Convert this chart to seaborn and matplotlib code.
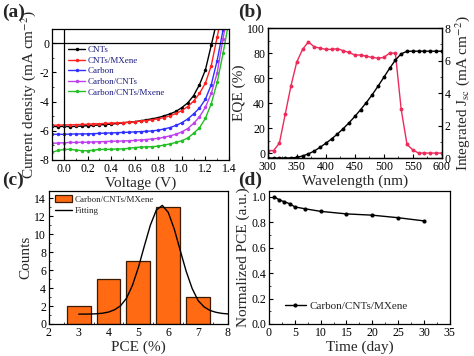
import numpy as np
import pandas as pd
import matplotlib
matplotlib.use("Agg")
import matplotlib.pyplot as plt
import seaborn as sns
from matplotlib.ticker import MultipleLocator
from matplotlib.patches import Patch
from matplotlib.lines import Line2D

# ---------------- data ----------------
# (a) J-V curves
voltage = [-0.10, -0.05, 0.00, 0.05, 0.10, 0.15, 0.20, 0.25, 0.30, 0.35, 0.40,
           0.45, 0.50, 0.55, 0.60, 0.65, 0.70, 0.75, 0.80, 0.85, 0.90, 0.95,
           1.00, 1.05, 1.10, 1.15, 1.20, 1.25, 1.30, 1.35, 1.40]
j_cnts = [-5.70, -5.72, -5.70, -5.72, -5.70, -5.68, -5.66, -5.64, -5.60, -5.58, -5.55,
          -5.50, -5.46, -5.42, -5.38, -5.32, -5.25, -5.18, -5.10, -4.98, -4.85, -4.68,
          -4.42, -4.10, -3.60, -2.85, -1.85, -0.15, 1.60, 3.40, 5.20]
j_cnts_mxene = [-5.62, -5.62, -5.60, -5.60, -5.58, -5.57, -5.56, -5.53, -5.52, -5.50, -5.48,
                -5.46, -5.44, -5.42, -5.38, -5.34, -5.30, -5.25, -5.18, -5.10, -4.98, -4.82,
                -4.62, -4.35, -3.98, -3.45, -2.75, -1.55, 0.40, 2.40, 4.40]
j_carbon = [-6.25, -6.24, -6.25, -6.23, -6.22, -6.22, -6.21, -6.20, -6.18, -6.16, -6.15,
            -6.13, -6.12, -6.10, -6.08, -6.06, -6.04, -6.01, -5.96, -5.88, -5.78, -5.64,
            -5.45, -5.20, -4.85, -4.45, -3.85, -2.85, -1.20, 0.90, 3.00]
j_carbon_cnts = [-6.86, -6.84, -6.82, -6.80, -6.80, -6.79, -6.79, -6.76, -6.75, -6.74, -6.72,
                 -6.71, -6.70, -6.68, -6.66, -6.63, -6.60, -6.56, -6.52, -6.44, -6.35, -6.24,
                 -6.08, -5.85, -5.50, -5.05, -4.40, -3.45, -2.05, 0.30, 2.50]
j_carbon_cnts_mxene = [-7.47, -7.35, -7.28, -7.27, -7.32, -7.36, -7.37, -7.33, -7.28, -7.27, -7.27,
                       -7.25, -7.24, -7.20, -7.15, -7.12, -7.10, -7.09, -7.05, -6.98, -6.90, -6.80,
                       -6.68, -6.50, -6.18, -5.80, -5.15, -4.15, -2.70, -0.70, 1.50]
jv_labels = ["CNTs", "CNTs/MXene", "Carbon", "Carbon/CNTs", "Carbon/CNTs/Mxene"]

# (b) EQE and integrated Jsc
wavelength = [300, 310, 320, 330, 340, 350, 360, 370, 380, 390, 400, 410, 420, 430, 440,
              450, 460, 470, 480, 490, 500, 510, 520, 530, 540, 550, 560, 570, 580, 590, 600]
eqe = [2, 2, 8, 31, 54, 73, 83, 89, 85, 84, 83, 83, 83.5, 82, 80.5,
       78.5, 78.5, 77.5, 76.5, 76, 76.5, 80, 80, 35, 7, 2.5, 0, 0, 0, 0, 0]
jsc_int = [0, 0, 0, 0, 0.01, 0.04, 0.13, 0.26, 0.43, 0.66, 0.91, 1.18, 1.48, 1.81, 2.17,
           2.56, 2.98, 3.42, 3.90, 4.42, 4.97, 5.52, 6.03, 6.42, 6.57, 6.58, 6.58, 6.58, 6.58, 6.58, 6.58]

# (c) PCE histogram and fitting curve
pce_bins = [3, 4, 5, 6, 7]
pce_counts = [2, 5, 7, 13, 3]
fit_x = [3.0, 3.2, 3.4, 3.6, 3.8, 4.0, 4.2, 4.4, 4.6, 4.8, 5.0, 5.2, 5.4,
         5.6, 5.8, 6.0, 6.2, 6.4, 6.6, 6.8, 7.0, 7.2, 7.4, 7.6, 7.8, 8.0]
fit_y = [1.10, 1.10, 1.11, 1.14, 1.20, 1.33, 1.58, 2.02, 2.86, 4.30, 6.30, 8.69, 11.0,
         12.67, 13.2, 12.41, 10.57, 8.19, 5.86, 3.95, 2.60, 1.90, 1.50, 1.30, 1.18, 1.12]

# (d) stability
days = [1, 2, 3, 4, 5, 7, 10, 15, 20, 25, 30]
norm_pce = [1.0, 0.975, 0.96, 0.945, 0.92, 0.905, 0.885, 0.865, 0.855, 0.835, 0.81]

# ---------------- style ----------------
sns.set_style("ticks")
plt.rcParams['font.family'] = ['Liberation Serif', 'DejaVu Serif']
plt.rcParams['mathtext.fontset'] = 'stix'
plt.rcParams['axes.unicode_minus'] = False
plt.rcParams['axes.linewidth'] = 0.9
plt.rcParams['axes.edgecolor'] = 'black'

TICK_FS = 8.5
LABEL_FS = 11


def style_axis(ax):
    ax.tick_params(axis='both', which='major', direction='in', length=3, width=0.8,
                   labelsize=TICK_FS, colors='black', pad=2)
    ax.tick_params(axis='both', which='minor', direction='in', length=1.5, width=0.6)
    for s in ax.spines.values():
        s.set_color('black')
        s.set_linewidth(0.9)


fig = plt.figure(figsize=(4.74, 3.56), dpi=100)
fig.patch.set_facecolor('white')

axa = fig.add_axes([0.110, 0.5506, 0.373, 0.368])
axb = fig.add_axes([0.565, 0.556, 0.367, 0.365])
axc = fig.add_axes([0.103, 0.0899, 0.378, 0.3736])
axd = fig.add_axes([0.5675, 0.0899, 0.3815, 0.3736])

# ---------------- (a) ----------------
jv_colors = ['#000000', '#ff2020', '#3030ff', '#c040f0', '#22c022']
jv_series = [j_cnts, j_cnts_mxene, j_carbon, j_carbon_cnts, j_carbon_cnts_mxene]
for lab, col, jj in zip(jv_labels, jv_colors, jv_series):
    df = pd.DataFrame({'V': voltage, 'J': jj})
    sns.lineplot(data=df, x='V', y='J', ax=axa, color=col, lw=1.0, marker='o',
                 markersize=2.5, markeredgewidth=0, sort=False, estimator=None, label=lab)
axa.axhline(0, color='black', lw=0.9)
axa.axvline(0, color='black', lw=0.9)
axa.set_xlim(-0.1, 1.4)
axa.set_ylim(-8, 0.96)
axa.xaxis.set_major_locator(MultipleLocator(0.2))
axa.xaxis.set_minor_locator(MultipleLocator(0.1))
axa.yaxis.set_major_locator(MultipleLocator(2))
axa.yaxis.set_minor_locator(MultipleLocator(1))
axa.xaxis.set_major_formatter(matplotlib.ticker.FormatStrFormatter('%.1f'))
axa.set_xlabel('Voltage (V)', fontsize=LABEL_FS, labelpad=1)
axa.set_ylabel('Current density (mA cm$^{-2}$)', fontsize=LABEL_FS, labelpad=1)
style_axis(axa)
leg = axa.legend(loc='upper left', bbox_to_anchor=(0.09, 0.87), frameon=False,
                 fontsize=6.5, handlelength=1.9, handletextpad=0.3, labelspacing=0.25,
                 borderpad=0, borderaxespad=0)
for t in leg.get_texts():
    t.set_color('#1c1c80')

# ---------------- (b) ----------------
red_b = '#ee2a5a'
dfb = pd.DataFrame({'wl': wavelength, 'eqe': eqe, 'jsc': jsc_int})
sns.lineplot(data=dfb, x='wl', y='eqe', ax=axb, color=red_b, lw=1.0, marker='o',
             markersize=2.8, markeredgewidth=0, estimator=None)
axb.set_xlim(300, 600)
axb.set_ylim(-4, 100)
axb.xaxis.set_major_locator(MultipleLocator(50))
axb.xaxis.set_minor_locator(MultipleLocator(25))
axb.yaxis.set_major_locator(MultipleLocator(20))
axb.yaxis.set_minor_locator(MultipleLocator(10))
axb.set_xlabel('Wavelength (nm)', fontsize=LABEL_FS, labelpad=1)
axb.set_ylabel('EQE (%)', fontsize=LABEL_FS, labelpad=1)
style_axis(axb)
axb2 = axb.twinx()
sns.lineplot(data=dfb, x='wl', y='jsc', ax=axb2, color='black', lw=1.0, marker='o',
             markersize=2.8, markeredgewidth=0, estimator=None)
axb2.set_ylim(0, 8)
axb2.yaxis.set_major_locator(MultipleLocator(2))
axb2.yaxis.set_minor_locator(MultipleLocator(1))
axb2.set_ylabel('Integrated J$_{\\mathrm{sc}}$ (mA cm$^{-2}$)', fontsize=LABEL_FS, labelpad=2)
style_axis(axb2)

# ---------------- (c) ----------------
dfc = pd.DataFrame({'pce': pce_bins, 'count': pce_counts})
sns.barplot(data=dfc, x='pce', y='count', ax=axc, native_scale=True, color='#ff6a12',
            saturation=1, width=0.8, edgecolor='#3a1a00', linewidth=0.9)
dff = pd.DataFrame({'x': fit_x, 'y': fit_y})
sns.lineplot(data=dff, x='x', y='y', ax=axc, color='black', lw=1.0, estimator=None)
axc.set_xlim(2, 8)
axc.set_ylim(0, 14.8)
axc.xaxis.set_major_locator(MultipleLocator(1))
axc.xaxis.set_minor_locator(MultipleLocator(0.5))
axc.yaxis.set_major_locator(MultipleLocator(2))
axc.yaxis.set_minor_locator(MultipleLocator(1))
axc.set_xlabel('PCE (%)', fontsize=LABEL_FS, labelpad=1)
axc.set_ylabel('Counts', fontsize=LABEL_FS, labelpad=1)
style_axis(axc)
handles_c = [Patch(facecolor='#ff6a12', edgecolor='#3a1a00', linewidth=0.9),
             Line2D([0], [0], color='black', lw=1.0)]
axc.legend(handles_c, ['Carbon/CNTs/MXene', 'Fitting'], loc='upper left',
           bbox_to_anchor=(0.034, 0.97), frameon=False, fontsize=6.5, handlelength=1.9,
           handleheight=0.9, handletextpad=0.3, labelspacing=0.3, borderpad=0, borderaxespad=0)

# ---------------- (d) ----------------
dfd = pd.DataFrame({'day': days, 'pce': norm_pce})
sns.lineplot(data=dfd, x='day', y='pce', ax=axd, color='black', lw=1.0, marker='o',
             markersize=3, markeredgewidth=0, estimator=None, label='Carbon/CNTs/MXene')
axd.set_xlim(0, 35)
axd.set_ylim(0, 1.045)
axd.xaxis.set_major_locator(MultipleLocator(5))
axd.xaxis.set_minor_locator(MultipleLocator(2.5))
axd.yaxis.set_major_locator(MultipleLocator(0.2))
axd.yaxis.set_minor_locator(MultipleLocator(0.1))
axd.yaxis.set_major_formatter(matplotlib.ticker.FormatStrFormatter('%.1f'))
axd.set_xlabel('Time (day)', fontsize=LABEL_FS, labelpad=1)
axd.set_ylabel('Normalized PCE (a.u.)', fontsize=LABEL_FS, labelpad=1)
style_axis(axd)
axd.legend(loc='center left', bbox_to_anchor=(0.088, 0.135), frameon=False, fontsize=8,
           handlelength=1.9, handletextpad=0.3, borderpad=0, borderaxespad=0)

# ---------------- panel labels ----------------
for lab, x, y in [('(a)', 0.004, 0.966), ('(b)', 0.503, 0.966),
                  ('(c)', 0.004, 0.494), ('(d)', 0.503, 0.494)]:
    fig.text(x, y, lab, fontsize=14, fontweight='bold', ha='left', va='center')

fig.savefig('out.png', dpi=100)
